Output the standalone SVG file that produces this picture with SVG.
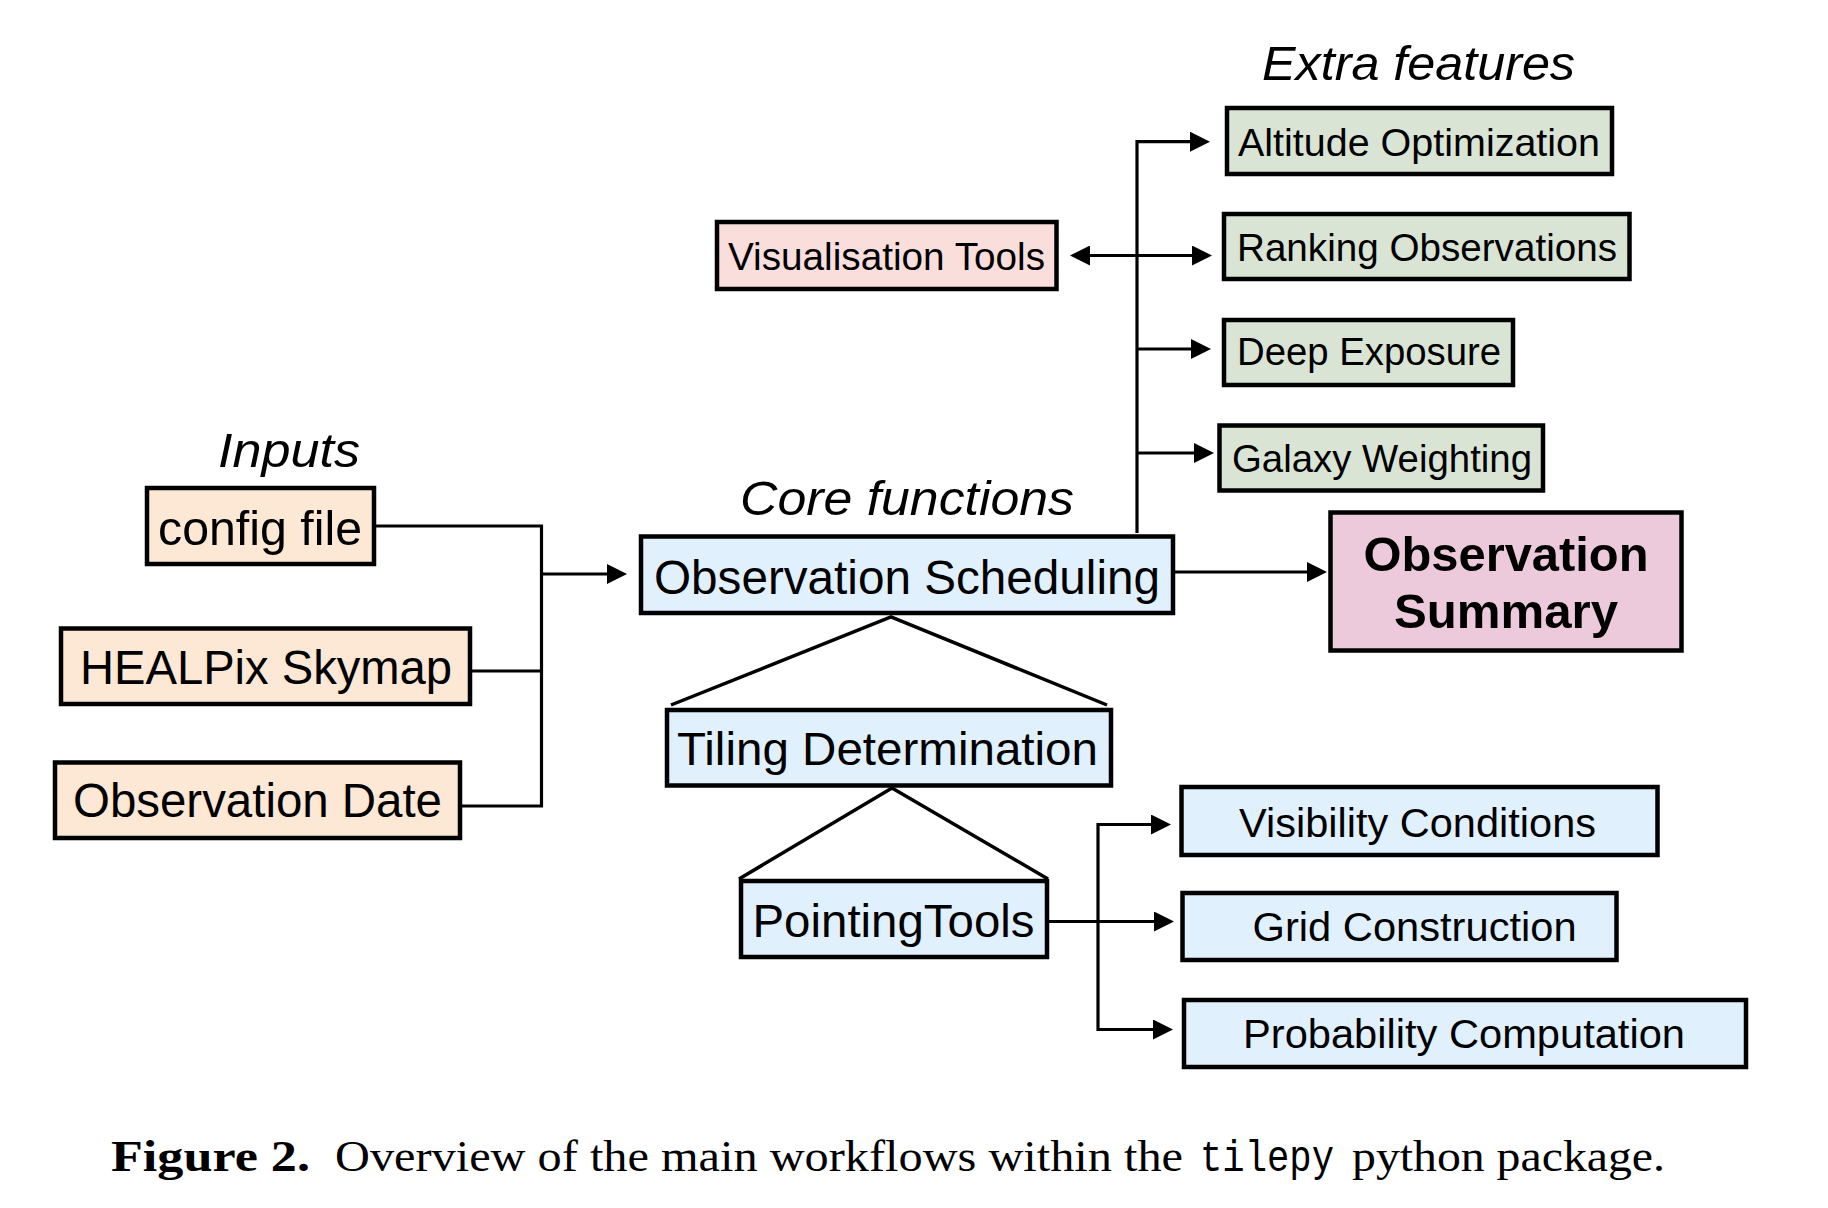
<svg xmlns="http://www.w3.org/2000/svg" width="1828" height="1208" viewBox="0 0 1828 1208">
<defs>
<marker id="ah" viewBox="0 0 20 20" refX="10" refY="10" markerWidth="20" markerHeight="20" markerUnits="userSpaceOnUse" orient="auto-start-reverse">
<path d="M0,0 L20,10 L0,20 z" fill="#000"/>
</marker>
<style>
.box{stroke:#000;stroke-width:4.5}
.inp{fill:#FCE8D4}
.vis{fill:#F9DEDC}
.ext{fill:#D9E4D5}
.core{fill:#E1F0FD}
.sum{fill:#EDCADB}
.t{font-family:"Liberation Sans",Arial,Helvetica,sans-serif;fill:#000}
.hdr{font-family:"Liberation Sans",Arial,Helvetica,sans-serif;font-style:italic;fill:#000;font-size:48px}
.ln{fill:none;stroke:#000;stroke-width:3.2}
.tri{fill:none;stroke:#000;stroke-width:3.5}
.cap{font-family:"Liberation Serif","Times New Roman",serif;font-size:44px;fill:#000}
</style>
</defs>
<rect width="1828" height="1208" fill="#fff"/>

<g id="labels">
<text class="hdr" x="218" y="467" textLength="142" lengthAdjust="spacingAndGlyphs">Inputs</text>
<text class="hdr" x="740" y="515" textLength="334" lengthAdjust="spacingAndGlyphs">Core functions</text>
<text class="hdr" x="1262" y="80" textLength="313" lengthAdjust="spacingAndGlyphs">Extra features</text>
</g>

<g id="connectors">
<path class="ln" d="M376,526 H541.5 V806 H462"/>
<path class="ln" d="M472,671 H541.5"/>
<path class="ln" d="M541.5,574 H617" marker-end="url(#ah)"/>
<path class="ln" d="M1137,533 V141.7 H1200" marker-end="url(#ah)"/>
<path class="ln" d="M1080,255.5 H1202" marker-start="url(#ah)" marker-end="url(#ah)"/>
<path class="ln" d="M1137,349 H1201" marker-end="url(#ah)"/>
<path class="ln" d="M1137,453 H1204" marker-end="url(#ah)"/>
<path class="ln" d="M1175,572 H1317" marker-end="url(#ah)"/>
<path class="tri" d="M671,705 L891,617 L1107,705"/>
<path class="tri" d="M739,879 L892,788 L1048,879"/>
<path class="ln" d="M1049,921.5 H1164" marker-end="url(#ah)"/>
<path class="ln" d="M1161,824.5 H1098 V1029.5 H1163" marker-start="url(#ah)" marker-end="url(#ah)"/>
</g>

<g id="config-file">
<rect class="box inp" x="147" y="488" width="227" height="76"/>
<text class="t" x="158" y="545" font-size="48" textLength="204" lengthAdjust="spacingAndGlyphs">config file</text>
</g>
<g id="healpix-skymap">
<rect class="box inp" x="61" y="628.5" width="409" height="75.5"/>
<text class="t" x="80" y="684" font-size="48" textLength="372" lengthAdjust="spacingAndGlyphs">HEALPix Skymap</text>
</g>
<g id="observation-date">
<rect class="box inp" x="55" y="762.5" width="405" height="75.5"/>
<text class="t" x="73" y="817" font-size="48" textLength="369" lengthAdjust="spacingAndGlyphs">Observation Date</text>
</g>

<g id="visualisation-tools">
<rect class="box vis" x="717" y="222" width="339.5" height="67"/>
<text class="t" x="728" y="270" font-size="38" textLength="317" lengthAdjust="spacingAndGlyphs">Visualisation Tools</text>
</g>

<g id="observation-scheduling">
<rect class="box core" x="641" y="536.5" width="532" height="76.5"/>
<text class="t" x="654" y="594" font-size="48" textLength="506" lengthAdjust="spacingAndGlyphs">Observation Scheduling</text>
</g>
<g id="tiling-determination">
<rect class="box core" x="667" y="710" width="444" height="75.5"/>
<text class="t" x="677" y="765" font-size="46" textLength="421" lengthAdjust="spacingAndGlyphs">Tiling Determination</text>
</g>
<g id="pointing-tools">
<rect class="box core" x="741" y="881" width="306" height="76"/>
<text class="t" x="752.5" y="937" font-size="46" textLength="282" lengthAdjust="spacingAndGlyphs">PointingTools</text>
</g>

<g id="altitude-optimization">
<rect class="box ext" x="1227" y="108" width="385" height="66"/>
<text class="t" x="1238" y="156" font-size="39" textLength="362" lengthAdjust="spacingAndGlyphs">Altitude Optimization</text>
</g>
<g id="ranking-observations">
<rect class="box ext" x="1224" y="214" width="405.5" height="65"/>
<text class="t" x="1237" y="261" font-size="39" textLength="380" lengthAdjust="spacingAndGlyphs">Ranking Observations</text>
</g>
<g id="deep-exposure">
<rect class="box ext" x="1224" y="320" width="289" height="65"/>
<text class="t" x="1237" y="365" font-size="39" textLength="264" lengthAdjust="spacingAndGlyphs">Deep Exposure</text>
</g>
<g id="galaxy-weighting">
<rect class="box ext" x="1219.5" y="425.5" width="323.5" height="65"/>
<text class="t" x="1232" y="472" font-size="39" textLength="300" lengthAdjust="spacingAndGlyphs">Galaxy Weighting</text>
</g>

<g id="observation-summary">
<rect class="box sum" x="1330.5" y="512.5" width="351" height="138"/>
<text class="t" x="1363.5" y="571" font-size="48" font-weight="bold" textLength="285" lengthAdjust="spacingAndGlyphs">Observation</text>
<text class="t" x="1394" y="628" font-size="48" font-weight="bold" textLength="224" lengthAdjust="spacingAndGlyphs">Summary</text>
</g>

<g id="visibility-conditions">
<rect class="box core" x="1181.5" y="787" width="476" height="68"/>
<text class="t" x="1239" y="837" font-size="41" textLength="357" lengthAdjust="spacingAndGlyphs">Visibility Conditions</text>
</g>
<g id="grid-construction">
<rect class="box core" x="1182.5" y="893" width="434" height="67"/>
<text class="t" x="1252.6" y="941" font-size="41" textLength="324" lengthAdjust="spacingAndGlyphs">Grid Construction</text>
</g>
<g id="probability-computation">
<rect class="box core" x="1184" y="1000" width="562" height="67"/>
<text class="t" x="1243" y="1048" font-size="41" textLength="442" lengthAdjust="spacingAndGlyphs">Probability Computation</text>
</g>

<g id="caption">
<text class="cap" x="111" y="1171" font-weight="bold" textLength="199" lengthAdjust="spacingAndGlyphs">Figure 2.</text>
<text class="cap" x="335" y="1171" textLength="848" lengthAdjust="spacingAndGlyphs">Overview of the main workflows within the</text>
<text x="1200" y="1171" font-family="'Liberation Mono','Courier New',monospace" font-size="44" textLength="134" lengthAdjust="spacingAndGlyphs">tilepy</text>
<text class="cap" x="1352" y="1171" textLength="313" lengthAdjust="spacingAndGlyphs">python package.</text>
</g>
</svg>
